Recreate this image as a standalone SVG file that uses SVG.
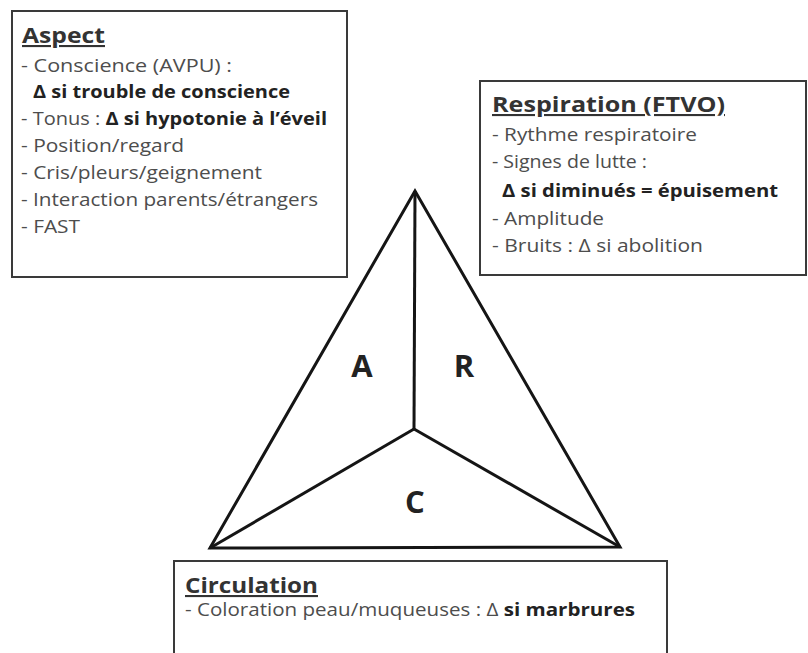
<svg xmlns="http://www.w3.org/2000/svg" width="808" height="653" viewBox="0 0 808 653">
<style>
.box{fill:#fff;stroke:#3a3a3a;stroke-width:2}
.title{font-family:"Open Sans","Noto Sans",sans-serif;font-weight:bold;font-size:21px;fill:#333;text-decoration:underline}
.body{font-family:"Open Sans","Noto Sans",sans-serif;font-size:17.5px;fill:#4d4d4d}
.b{font-weight:bold;fill:#222}
.tri{fill:none;stroke:#151515;stroke-width:3;stroke-linejoin:miter}
.lbl{font-family:"Open Sans","Noto Sans",sans-serif;font-weight:bold;font-size:31px;fill:#222;text-anchor:middle}
</style>
<rect width="808" height="653" fill="#fff"/>
<g id="aspect">
<rect class="box" x="12" y="11" width="335" height="266"/>
<text class="title" x="22" y="43" textLength="83" lengthAdjust="spacingAndGlyphs">Aspect</text>
<text class="body" x="21" y="72" textLength="211" lengthAdjust="spacingAndGlyphs">- Conscience (AVPU) :</text>
<text class="body b" x="33" y="98" textLength="257" lengthAdjust="spacingAndGlyphs">Δ si trouble de conscience</text>
<text class="body" x="21" y="125" textLength="306" lengthAdjust="spacingAndGlyphs">- Tonus : <tspan class="b">Δ si hypotonie à l’éveil</tspan></text>
<text class="body" x="21" y="152" textLength="163" lengthAdjust="spacingAndGlyphs">- Position/regard</text>
<text class="body" x="21" y="179" textLength="241" lengthAdjust="spacingAndGlyphs">- Cris/pleurs/geignement</text>
<text class="body" x="21" y="206" textLength="297" lengthAdjust="spacingAndGlyphs">- Interaction parents/étrangers</text>
<text class="body" x="21" y="233" textLength="59" lengthAdjust="spacingAndGlyphs">- FAST</text>
</g>
<g id="respiration">
<rect class="box" x="480" y="81" width="326" height="194"/>
<text class="title" x="492" y="112" textLength="233" lengthAdjust="spacingAndGlyphs">Respiration (FTVO)</text>
<text class="body" x="492" y="141" textLength="205" lengthAdjust="spacingAndGlyphs">- Rythme respiratoire</text>
<text class="body" x="492" y="168" textLength="155" lengthAdjust="spacingAndGlyphs">- Signes de lutte :</text>
<text class="body b" x="502" y="197" textLength="276" lengthAdjust="spacingAndGlyphs">Δ si diminués = épuisement</text>
<text class="body" x="492" y="225" textLength="112" lengthAdjust="spacingAndGlyphs">- Amplitude</text>
<text class="body" x="492" y="252" textLength="211" lengthAdjust="spacingAndGlyphs">- Bruits : Δ si abolition</text>
</g>
<g id="circulation">
<rect class="box" x="174" y="561" width="493" height="100"/>
<text class="title" x="185" y="593" textLength="133" lengthAdjust="spacingAndGlyphs">Circulation</text>
<text class="body" x="185" y="616" textLength="450" lengthAdjust="spacingAndGlyphs">- Coloration peau/muqueuses : Δ <tspan class="b">si marbrures</tspan></text>
</g>
<g id="triangle">
<polygon class="tri" points="415,191 210,548 620,547"/>
<g id="connectors">
<line class="tri" x1="415" y1="191" x2="414" y2="429"/>
<line class="tri" x1="414" y1="429" x2="210" y2="548"/>
<line class="tri" x1="414" y1="429" x2="620" y2="547"/>
</g>
<text class="lbl" x="362" y="377">A</text>
<text class="lbl" x="464" y="377">R</text>
<text class="lbl" x="415" y="513">C</text>
</g>
</svg>
